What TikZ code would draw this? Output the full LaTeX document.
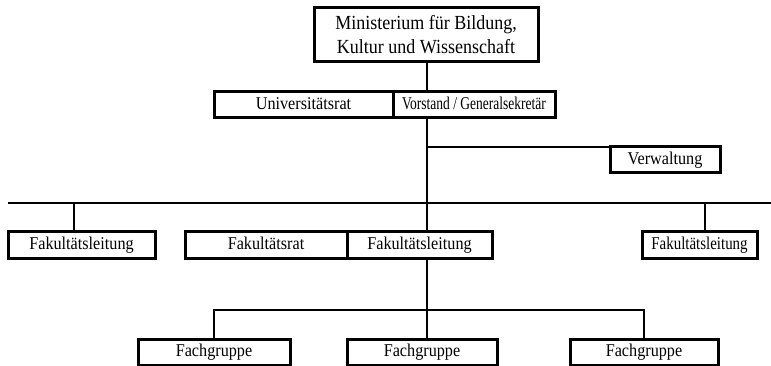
\documentclass[tikz,border=0pt]{standalone}
\usepackage{fontspec}
\setmainfont{Liberation Serif}

\begin{document}
\begin{tikzpicture}[x=1pt, y=1pt,
    box/.style={draw, line width=3pt, inner sep=0pt, outer sep=0pt,
      minimum height=26pt, text height=12.5pt, text depth=4pt, align=center,
      font=\fontsize{18}{24}\selectfont\addfontfeature{FakeStretch=0.9}},
    link/.style={line width=1.4pt}]
  \useasboundingbox (0,0) rectangle (771,-366);

  % boxes
  \node[box, minimum width=224pt, minimum height=54pt, text height=, text depth=,
    font=\fontsize{20}{24}\selectfont\addfontfeature{FakeStretch=0.9}]
    (min) at (426,-35) {Ministerium f\"ur Bildung,\\Kultur und Wissenschaft};
  \node[box, minimum width=179pt] (urat)  at (303.5,-105) {Universit\"atsrat};
  \node[box, minimum width=162pt,
    font=\fontsize{18}{20}\selectfont\addfontfeature{FakeStretch=0.75}]
    (vorst) at (474,-105) {Vorstand / Generalsekret\"ar};
  \node[box, minimum width=110pt] (verw)  at (665,-160)   {Verwaltung};
  \node[box, minimum width=147pt] (fakL)  at (81.5,-245)  {Fakult\"atsleitung};
  \node[box, minimum width=162pt] (frat)  at (266,-245)   {Fakult\"atsrat};
  \node[box, minimum width=145pt] (fakM)  at (419.5,-245) {Fakult\"atsleitung};
  \node[box, minimum width=115pt,
    font=\fontsize{18}{20}\selectfont\addfontfeature{FakeStretch=0.83}]
    (fakR) at (699.5,-245) {Fakult\"atsleitung};
  \node[box, minimum width=152pt] (fg1)   at (214,-352.5) {Fachgruppe};
  \node[box, minimum width=150pt] (fg2)   at (422,-352.5) {Fachgruppe};
  \node[box, minimum width=148pt] (fg3)   at (644,-352.5) {Fachgruppe};

  % junctions
  \coordinate (spine) at (427,-147);
  \coordinate (busL)  at (8,-203);
  \coordinate (busR)  at (771,-203);
  \coordinate (busA)  at (74,-203);
  \coordinate (busB)  at (705,-203);
  \coordinate (fgL)   at (214,-310);
  \coordinate (fgR)   at (644,-310);

  % connectors
  \draw[link] (min.south -| spine) -- (vorst.north -| spine);
  \draw[link] (vorst.south -| spine) -- (fakM.north -| spine);
  \draw[link] (spine) -- (verw.north west);
  \draw[link] (busL) -- (busR);
  \draw[link] (busA) -- (busA |- fakL.north);
  \draw[link] (busB) -- (busB |- fakR.north);
  \draw[link] (fakM.south -| spine) -- (fg2.north -| spine);
  \draw[link] (fg1.north) -- (fgL) -- (fgR) -- (fg3.north);
\end{tikzpicture}
\end{document}
